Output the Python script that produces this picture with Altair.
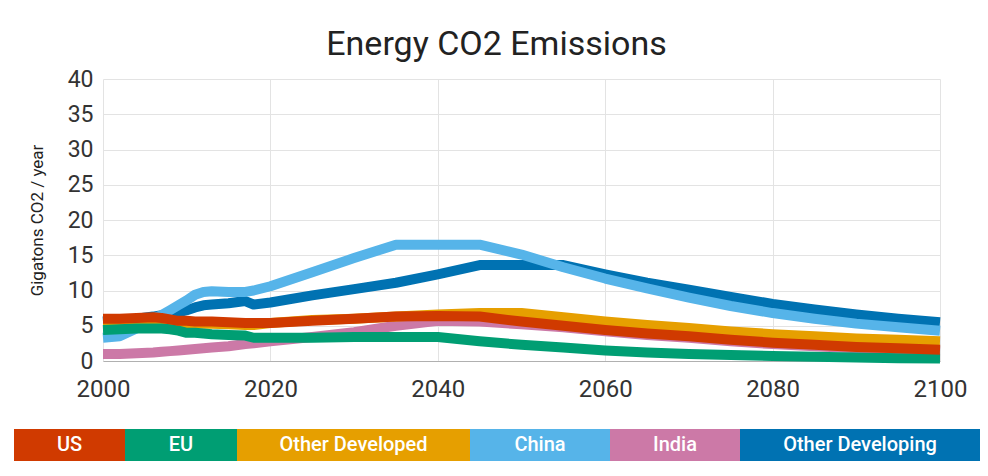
import altair as alt
import pandas as pd

# ---- data (Gigatons CO2 / year) ----
years = [2000, 2002, 2004, 2006, 2007, 2008, 2009, 2010, 2011, 2012, 2013, 2015, 2017, 2018, 2020,
         2025, 2030, 2035, 2040, 2045, 2050, 2055, 2060, 2065, 2070, 2075, 2080, 2085, 2090, 2095, 2100]

us = [6.0, 6.0, 6.1, 6.2, 6.1, 5.9, 5.7, 5.7, 5.6, 5.6, 5.6, 5.5, 5.4, 5.4, 5.4,
      5.7, 6.0, 6.3, 6.4, 6.3, 5.6, 5.0, 4.4, 3.9, 3.5, 3.0, 2.6, 2.3, 2.0, 1.8, 1.6]
eu = [4.4, 4.5, 4.6, 4.6, 4.6, 4.5, 4.3, 4.0, 4.0, 3.9, 3.8, 3.7, 3.6, 3.3, 3.3,
      3.3, 3.4, 3.4, 3.4, 2.8, 2.3, 1.9, 1.5, 1.2, 1.0, 0.85, 0.7, 0.6, 0.5, 0.4, 0.35]
other_developed = [5.7, 5.7, 5.8, 5.9, 5.8, 5.6, 5.4, 5.4, 5.3, 5.3, 5.3, 5.2, 5.1, 5.1, 5.4,
                   5.8, 6.0, 6.3, 6.6, 6.8, 6.8, 6.2, 5.6, 5.1, 4.7, 4.2, 3.8, 3.5, 3.2, 3.0, 2.8]
china = [3.3, 3.5, 4.6, 6.0, 6.5, 7.2, 7.9, 8.6, 9.4, 9.8, 9.9, 9.8, 9.8, 10.0, 10.6,
         12.6, 14.6, 16.5, 16.5, 16.5, 15.1, 13.3, 11.7, 10.3, 9.0, 7.8, 6.8, 6.0, 5.3, 4.8, 4.3]
india = [1.0, 1.0, 1.1, 1.2, 1.3, 1.4, 1.5, 1.6, 1.7, 1.8, 1.9, 2.1, 2.4, 2.5, 2.8,
         3.4, 4.1, 5.0, 5.7, 5.6, 5.2, 4.8, 4.2, 3.7, 3.3, 2.8, 2.4, 2.1, 1.8, 1.6, 1.4]
other_developing = [5.6, 5.8, 6.0, 6.3, 6.5, 6.7, 6.9, 7.2, 7.6, 7.9, 8.0, 8.2, 8.5, 8.0, 8.3,
                    9.3, 10.2, 11.1, 12.3, 13.6, 13.6, 13.6, 12.3, 11.1, 10.1, 9.1, 8.1, 7.3, 6.6, 6.0, 5.5]

series_names = ["US", "EU", "Other Developed", "China", "India", "Other Developing"]
series_values = [us, eu, other_developed, china, india, other_developing]
series_colors = ["#D03A00", "#009E73", "#E69F00", "#56B4E9", "#CC79A7", "#0072B2"]
draw_order = ["Other Developing", "China", "India", "Other Developed", "EU", "US"]

x_ticks = [2000, 2020, 2040, 2060, 2080, 2100]
y_ticks = [0, 5, 10, 15, 20, 25, 30, 35, 40]

# ---- layout constants ----
PLOT_W, PLOT_H = 837, 282
LEGEND_WIDTHS = [111, 112, 233, 140, 130, 240]   # pixel widths of legend segments
LEGEND_LEFT = -89                                  # relative to plot left
LEGEND_TOP, LEGEND_BOTTOM = 350, 382               # relative to plot top
FONT = "Roboto"

rows = []
for name, vals in zip(series_names, series_values):
    for yr, v in zip(years, vals):
        rows.append({"year": yr, "value": v, "series": name})
df = pd.DataFrame(rows)

color_scale = alt.Scale(domain=series_names, range=series_colors)

x_enc = alt.X("year:Q",
              scale=alt.Scale(domain=[2000, 2100], nice=False, zero=False),
              axis=alt.Axis(title=None, values=x_ticks, format="d", ticks=False, labelFlush=False,
                            labelFontSize=24, labelColor="#333", labelPadding=16,
                            labelFont=FONT, domainColor="#b0b0b0", gridColor="#e3e3e3"))
y_enc = alt.Y("value:Q",
              scale=alt.Scale(domain=[0, 40], nice=False),
              axis=alt.Axis(title="Gigatons CO2 / year", values=y_ticks, ticks=False, domain=False,
                            labelFontSize=23, labelColor="#333", labelPadding=10, labelFont=FONT,
                            titleFontSize=17, titleFontWeight="normal", titleColor="#222",
                            titleFont=FONT, titlePadding=21, gridColor="#e3e3e3"))

base = alt.Chart(df)
line_layers = []
for name in draw_order:
    line_layers.append(
        base.transform_filter(alt.datum.series == name)
        .mark_line(strokeWidth=10, strokeJoin="round", strokeCap="butt")
        .encode(x=x_enc, y=y_enc,
                color=alt.Color("series:N", scale=color_scale, legend=None))
    )
lines = alt.layer(*line_layers)

# ---- custom legend bar ----
starts, ends, mids = [], [], []
acc = 0
for w in LEGEND_WIDTHS:
    starts.append(acc)
    ends.append(acc + w)
    mids.append(acc + w / 2)
    acc += w
total_w = acc
leg_df = pd.DataFrame({"series": series_names, "start": starts, "end": ends, "mid": mids})
leg_scale = alt.Scale(domain=[0, total_w], range=[LEGEND_LEFT, LEGEND_LEFT + total_w], nice=False, zero=False)

leg_rect = alt.Chart(leg_df).mark_rect().encode(
    x=alt.X("start:Q", scale=leg_scale, axis=None),
    x2="end:Q",
    y=alt.value(LEGEND_TOP), y2=alt.value(LEGEND_BOTTOM),
    color=alt.Color("series:N", scale=color_scale, legend=None),
)
leg_text = alt.Chart(leg_df).mark_text(color="white", fontSize=20, fontWeight=500, font=FONT,
                                       baseline="middle", align="center").encode(
    x=alt.X("mid:Q", scale=leg_scale, axis=None),
    y=alt.value((LEGEND_TOP + LEGEND_BOTTOM) / 2),
    text="series:N",
)
legend = alt.layer(leg_rect, leg_text)

chart = alt.layer(lines, legend).resolve_scale(x="independent").properties(
    width=PLOT_W, height=PLOT_H,
    title=alt.TitleParams("Energy CO2 Emissions", fontSize=34, font=FONT, fontWeight="normal",
                          color="#222", anchor="middle", dx=-25, offset=6),
    padding={"left": 6, "top": 20, "right": 0, "bottom": 0},
).configure(font=FONT).configure_view(stroke=None)

chart.save("out.html", embed_options={"renderer": "svg", "actions": False})
